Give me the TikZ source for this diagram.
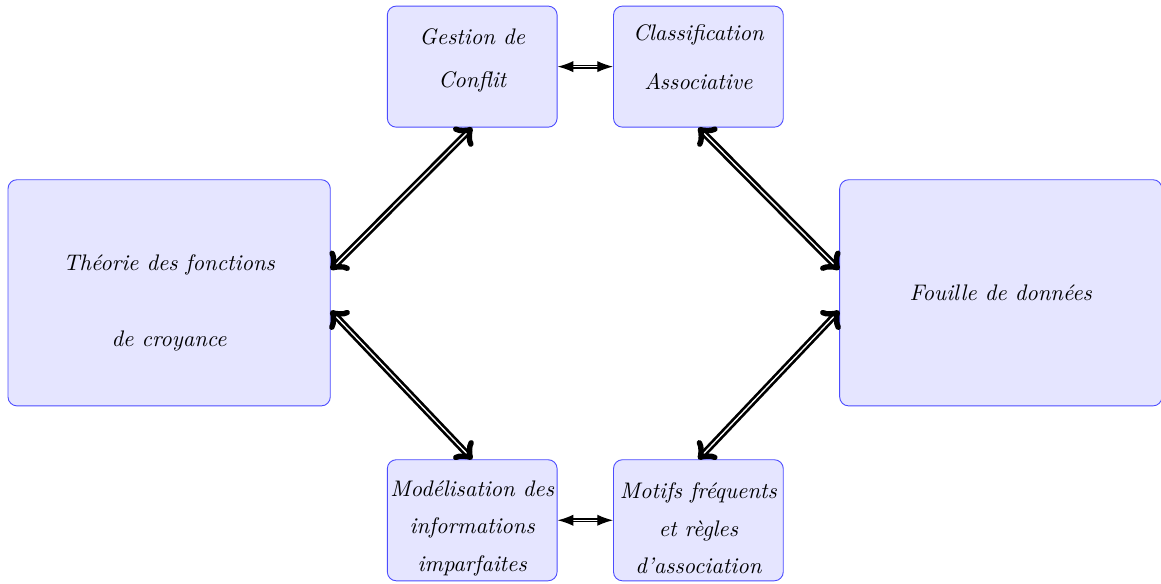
\documentclass[tikz,border=0pt]{standalone}
\usetikzlibrary{arrows,arrows.meta}

\tikzset{
  boite/.style={draw=blue!70, fill=blue!10, rounded corners},
  petiteboite/.style={boite, minimum width=2.65cm, minimum height=1.89cm},
  grandeboite/.style={boite, minimum width=5.03cm, minimum height=3.53cm},
  texte/.style={align=center, font=\itshape, inner sep=0pt},
  lien/.style={<->, >=to, double, very thick},
  petitlien/.style={{Latex[length=7pt,width=5pt]}-{Latex[length=7pt,width=5pt]}, double, semithick}
}

\begin{document}
\begin{tikzpicture}
  \useasboundingbox (0,0) rectangle (18.12,-9.10);

  % Boites du haut
  \node[petiteboite] (gestion) at (7.37,-1.04) {};
  \node[petiteboite] (classif) at (10.90,-1.04) {};
  \node[texte] (tgestion) at ([yshift=2.9pt]gestion.center) {Gestion de\\[7pt] Conflit};
  \node[texte] (tclassif) at ([yshift=4.2pt]classif.center) {Classification\\[9.5pt] Associative};

  % Boites des cotes
  \node[grandeboite] (theorie) at (2.64,-4.57) {};
  \node[grandeboite] (fouille) at (15.62,-4.57) {};
  \node[texte] (ttheorie) at ([yshift=-4.4pt]theorie.center) {Th\'eorie des fonctions\\[22pt] de croyance};
  \node[texte] (tfouille) at (fouille.center) {Fouille de donn\'ees};

  % Boites du bas
  \node[petiteboite] (model) at (7.37,-8.12) {};
  \node[petiteboite] (motifs) at (10.90,-8.12) {};
  \node[texte] (tmodel) at ([yshift=-3.6pt]model.center) {Mod\'elisation des\\[4.7pt] informations\\[4.7pt] imparfaites};
  \node[texte] (tmotifs) at ([yshift=-3.6pt]motifs.center) {Motifs fr\'equents\\[4.7pt] et r\`egles\\[4.7pt] d'association};

  % Liens
  \draw[lien] ([yshift=0.36cm]theorie.east) -- (gestion.south);
  \draw[lien] ([yshift=-0.28cm]theorie.east) -- (model.north);
  \draw[lien] (classif.south) -- ([yshift=0.36cm]fouille.west);
  \draw[lien] (motifs.north) -- ([yshift=-0.28cm]fouille.west);
  \draw[petitlien] (gestion.east) -- (classif.west);
  \draw[petitlien] (model.east) -- (motifs.west);
\end{tikzpicture}
\end{document}
